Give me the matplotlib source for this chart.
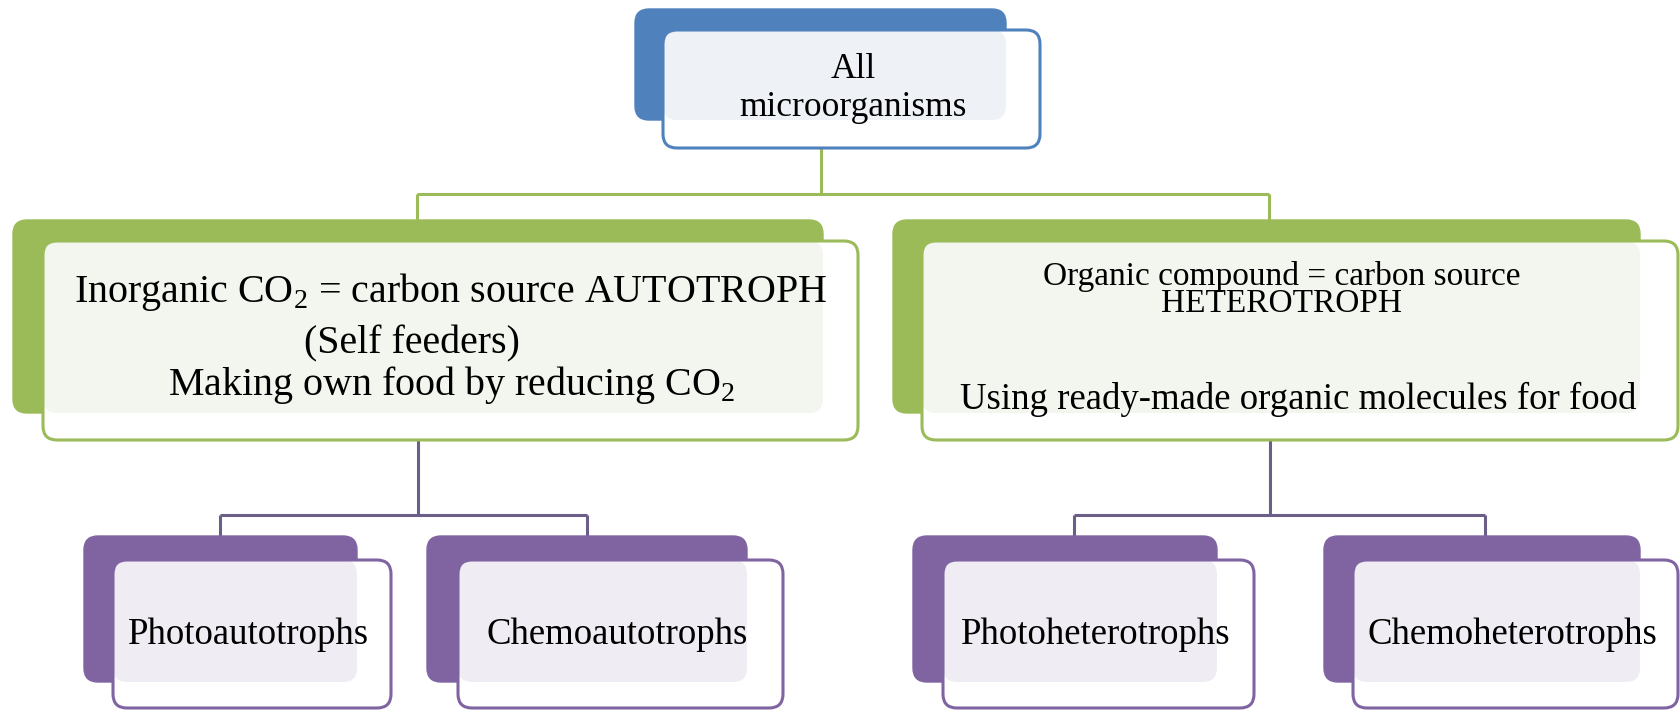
import matplotlib
matplotlib.use("Agg")
import matplotlib.pyplot as plt
from matplotlib.patches import FancyBboxPatch

plt.rcParams['font.family'] = ['Liberation Serif', 'DejaVu Serif']
plt.rcParams['mathtext.fontset'] = 'custom'
plt.rcParams['mathtext.rm'] = 'Liberation Serif'

# ---- content ----
root_label = ["All", "microorganisms"]
level1_labels = [
    ["Inorganic CO$_\\mathregular{2}$ = carbon source AUTOTROPH", "(Self feeders)",
     "Making own food by reducing CO$_\\mathregular{2}$"],
    ["Organic compound = carbon source", "HETEROTROPH", "",
     "Using ready-made organic molecules for food"],
]
level2_labels = ["Photoautotrophs", "Chemoautotrophs", "Photoheterotrophs", "Chemoheterotrophs"]

# ---- layout (pixels, y downward) ----
W, H = 1681, 710
BLUE, GREEN, PURPLE = "#4f81bd", "#9bbb59", "#8064a2"
LINE_PURPLE = "#6b5f8a"

fig = plt.figure(figsize=(W / 100, H / 100), dpi=100)
ax = fig.add_axes([0, 0, 1, 1])
ax.set_xlim(0, W)
ax.set_ylim(H, 0)
ax.axis("off")


def rbox(x0, y0, x1, y1, fc, ec, lw, r=14, alpha=1.0, z=1):
    p = FancyBboxPatch((x0, y0), x1 - x0, y1 - y0,
                       boxstyle=f"round,pad=0,rounding_size={r}",
                       fc=fc, ec=ec, lw=lw, alpha=alpha, zorder=z)
    ax.add_patch(p)


def node(back, front, color, tint):
    rbox(*back, fc=color, ec=color, lw=1.0, z=1)
    rbox(*front, fc="white", ec="none", lw=0, z=2)
    rbox(front[0], front[1], back[2], back[3], fc=tint, ec="none", lw=0, z=2.5)
    rbox(*front, fc="none", ec=color, lw=2.2, z=3)


def line(xs, ys, color, lw=2.2):
    ax.plot(xs, ys, color=color, lw=lw, solid_capstyle="butt", zorder=0.5)


# connectors
line([821, 821], [148, 194], GREEN)
line([417, 1269], [194, 194], GREEN)
line([417, 417], [194, 221], GREEN)
line([1269, 1269], [194, 221], GREEN)

line([418, 418], [440, 515], LINE_PURPLE)
line([220, 587], [515, 515], LINE_PURPLE)
line([220, 220], [515, 537], LINE_PURPLE)
line([587, 587], [515, 537], LINE_PURPLE)

line([1270, 1270], [440, 515], LINE_PURPLE)
line([1074, 1485], [515, 515], LINE_PURPLE)
line([1074, 1074], [515, 537], LINE_PURPLE)
line([1485, 1485], [515, 537], LINE_PURPLE)

# root
node((635, 9, 1006, 120), (663, 30, 1040, 148), BLUE, "#eef1f6")
ax.text(853, 70, root_label[0], ha="center", va="center", fontsize=25.5, zorder=5)
ax.text(853, 108, root_label[1], ha="center", va="center", fontsize=25.5, zorder=5)

# level 1
node((13, 220, 823, 413), (43, 241, 858, 440), GREEN, "#f3f6ee")
node((893, 220, 1640, 413), (922, 241, 1678, 440), GREEN, "#f3f6ee")

l1 = level1_labels[0]
ax.text(451, 292, l1[0], ha="center", va="center", fontsize=28.8, zorder=5)
ax.text(412, 344, l1[1], ha="center", va="center", fontsize=28.8, zorder=5)
ax.text(452, 385, l1[2], ha="center", va="center", fontsize=28.8, zorder=5)

r1 = level1_labels[1]
ax.text(1282, 290, r1[0] + "\n" + r1[1], ha="center", va="center", multialignment="center",
        linespacing=0.88, fontsize=24, zorder=5)
ax.text(1298, 399, r1[3], ha="center", va="center", fontsize=26.5, zorder=5)

# level 2
backs = [(84, 536, 357, 682), (427, 536, 747, 682), (913, 536, 1217, 682), (1324, 536, 1640, 682)]
fronts = [(113, 560, 391, 708), (458, 560, 783, 708), (943, 560, 1254, 708), (1353, 560, 1678, 708)]
for lab, b, f in zip(level2_labels, backs, fronts):
    node(b, f, PURPLE, "#efedf3")
    ax.text((f[0] + f[2]) / 2 - 3, 635, lab, ha="center", va="center", fontsize=26.5, zorder=5)

fig.savefig("out.png", dpi=100, facecolor="white")
